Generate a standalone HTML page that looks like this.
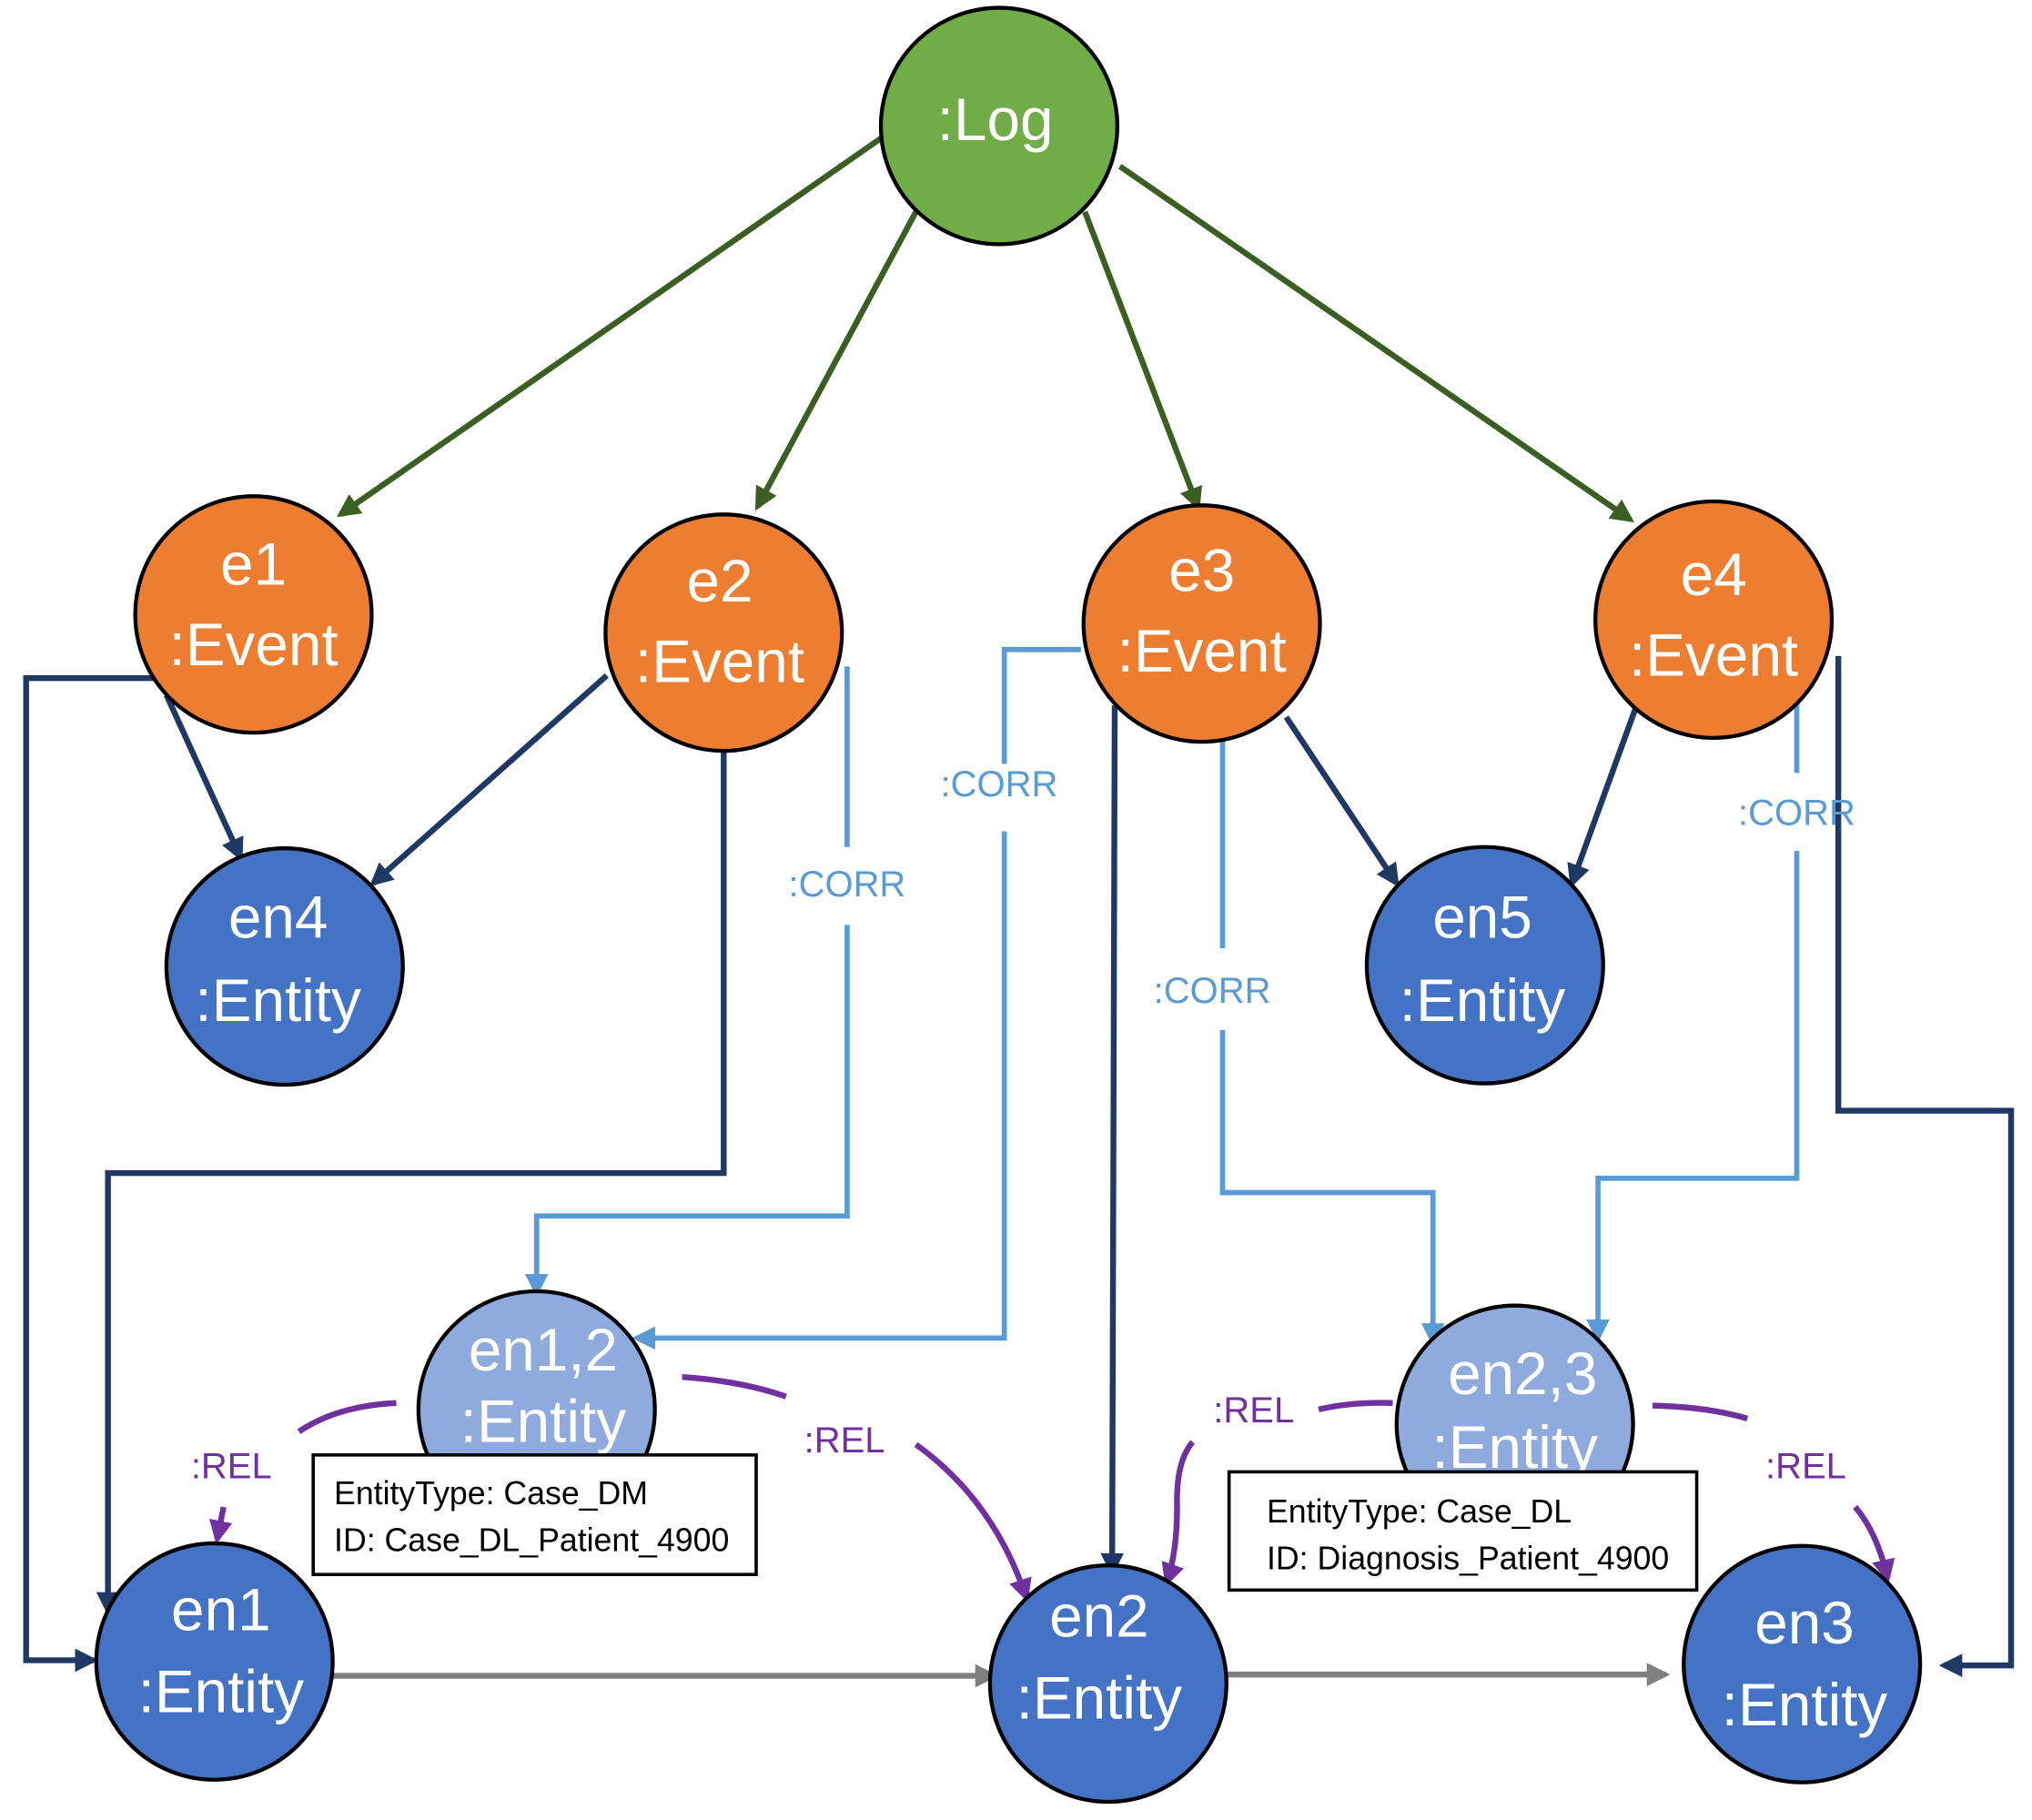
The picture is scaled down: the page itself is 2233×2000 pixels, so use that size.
<!DOCTYPE html>
<html><head><meta charset="utf-8"><style>html,body{margin:0;padding:0;background:#fff}svg{display:block}</style></head>
<body>
<svg width="2233" height="2000" viewBox="0 0 1564 1401" xmlns="http://www.w3.org/2000/svg" font-family="Liberation Sans, sans-serif">
<defs>
<marker id="ag" viewBox="0 0 10 10" refX="8" refY="5" markerWidth="4" markerHeight="4" orient="auto"><path d="M0,0 L10,5 L0,10 z" fill="#3B5E23"/></marker>
<marker id="an" viewBox="0 0 10 10" refX="8" refY="5" markerWidth="4" markerHeight="4" orient="auto"><path d="M0,0 L10,5 L0,10 z" fill="#203864"/></marker>
<marker id="ab" viewBox="0 0 10 10" refX="8" refY="5" markerWidth="4.5" markerHeight="4.5" orient="auto"><path d="M0,0 L10,5 L0,10 z" fill="#5B9BD5"/></marker>
<marker id="ap" viewBox="0 0 10 10" refX="8" refY="5" markerWidth="4" markerHeight="4" orient="auto"><path d="M0,0 L10,5 L0,10 z" fill="#7030A0"/></marker>
<marker id="ay" viewBox="0 0 10 10" refX="8" refY="5" markerWidth="4" markerHeight="4" orient="auto"><path d="M0,0 L10,5 L0,10 z" fill="#7F7F7F"/></marker>
</defs>
<g stroke="#3B5E23" stroke-width="4.5" fill="none" marker-end="url(#ag)">
<line x1="683" y1="103" x2="262" y2="396"/>
<line x1="705" y1="163" x2="583" y2="390"/>
<line x1="835" y1="163" x2="922" y2="390"/>
<line x1="862" y1="128" x2="1255" y2="400"/>
</g>
<g stroke="#203864" stroke-width="4.5" fill="none" marker-end="url(#an)">
<line x1="128" y1="535" x2="185" y2="660"/>
<line x1="467" y1="520" x2="287" y2="680"/>
<polyline points="122,522 20,522 20,1278 72,1278"/>
<polyline points="557,575 557,903 83,903 83,1240"/>
<line x1="858" y1="543" x2="856" y2="1210"/>
<line x1="990" y1="552" x2="1075" y2="680"/>
<line x1="1259" y1="545" x2="1210" y2="680"/>
<polyline points="1415,505 1415,855 1548,855 1548,1282 1496,1282"/>
</g>
<g stroke="#5B9BD5" stroke-width="4" fill="none">
<line x1="652" y1="513" x2="652" y2="652"/>
<polyline points="652,712 652,936 413,936 413,995" marker-end="url(#ab)"/>
<polyline points="832,500 773,500 773,588"/>
<polyline points="773,640 773,1030 490,1030" marker-end="url(#ab)"/>
<line x1="941" y1="563" x2="941" y2="730"/>
<polyline points="941,793 941,918 1103,918 1103,1033" marker-end="url(#ab)"/>
<line x1="1383" y1="540" x2="1383" y2="595"/>
<polyline points="1383,655 1383,907 1230,907 1230,1030" marker-end="url(#ab)"/>
</g>
<g fill="#5B9BD5" font-size="28" text-anchor="middle">
<text x="652" y="690">:CORR</text>
<text x="769" y="613">:CORR</text>
<text x="933" y="772">:CORR</text>
<text x="1383" y="635">:CORR</text>
</g>
<g stroke="#7030A0" stroke-width="4.5" fill="none">
<path d="M305,1080 Q260,1082 230,1102"/>
<line x1="172" y1="1160" x2="167" y2="1185" marker-end="url(#ap)"/>
<path d="M525,1060 Q570,1063 605,1075"/>
<path d="M705,1112 Q765,1155 790,1230" marker-end="url(#ap)"/>
<path d="M1072,1080 Q1040,1079 1015,1085"/>
<path d="M918,1110 Q905,1125 906,1160 Q906,1195 898,1218" marker-end="url(#ap)"/>
<path d="M1272,1082 Q1315,1083 1345,1092"/>
<path d="M1428,1160 Q1445,1180 1453,1215" marker-end="url(#ap)"/>
</g>
<g fill="#7030A0" font-size="28" text-anchor="middle">
<text x="178" y="1138">:REL</text>
<text x="650" y="1118">:REL</text>
<text x="965" y="1095">:REL</text>
<text x="1390" y="1138">:REL</text>
</g>
<g stroke="#7F7F7F" stroke-width="4.5" marker-end="url(#ay)">
<line x1="255" y1="1290" x2="765" y2="1290"/>
<line x1="943" y1="1289" x2="1282" y2="1289"/>
</g>
<g stroke="#000" stroke-width="3">
<circle cx="769" cy="97" r="91" fill="#70AD47"/>
<circle cx="195" cy="473" r="91" fill="#ED7D31"/>
<circle cx="557" cy="487" r="91" fill="#ED7D31"/>
<circle cx="925" cy="480" r="91" fill="#ED7D31"/>
<circle cx="1319" cy="477" r="91" fill="#ED7D31"/>
<circle cx="219" cy="744" r="91" fill="#4472C4"/>
<circle cx="1143" cy="743" r="91" fill="#4472C4"/>
<circle cx="413" cy="1085" r="91" fill="#8FAADC"/>
<circle cx="1166" cy="1096" r="91" fill="#8FAADC"/>
<circle cx="165" cy="1279" r="91" fill="#4472C4"/>
<circle cx="853" cy="1296" r="91" fill="#4472C4"/>
<circle cx="1387" cy="1281" r="91" fill="#4472C4"/>
</g>
<g fill="#fff" font-size="46" text-anchor="middle">
<text x="766" y="108">:Log</text>
<text x="195" y="450">e1</text><text x="195" y="512">:Event</text>
<text x="554" y="463">e2</text><text x="554" y="525">:Event</text>
<text x="925" y="455">e3</text><text x="925" y="517">:Event</text>
<text x="1319" y="458">e4</text><text x="1319" y="520">:Event</text>
<text x="214" y="722">en4</text><text x="214" y="786">:Entity</text>
<text x="1141" y="722">en5</text><text x="1141" y="786">:Entity</text>
<text x="418" y="1055">en1,2</text><text x="418" y="1110">:Entity</text>
<text x="1172" y="1073">en2,3</text><text x="1166" y="1130">:Entity</text>
<text x="170" y="1255">en1</text><text x="170" y="1318">:Entity</text>
<text x="846" y="1260">en2</text><text x="846" y="1323">:Entity</text>
<text x="1389" y="1265">en3</text><text x="1389" y="1328">:Entity</text>
</g>
<rect x="241" y="1120" width="341" height="92" fill="#fff" stroke="#000" stroke-width="2.5"/>
<rect x="946" y="1133" width="360" height="91" fill="#fff" stroke="#000" stroke-width="2.5"/>
<g fill="#000" font-size="25">
<text x="257" y="1158">EntityType: Case_DM</text>
<text x="257" y="1194">ID: Case_DL_Patient_4900</text>
<text x="975" y="1172">EntityType: Case_DL</text>
<text x="975" y="1208">ID: Diagnosis_Patient_4900</text>
</g>
</svg>
</body></html>
